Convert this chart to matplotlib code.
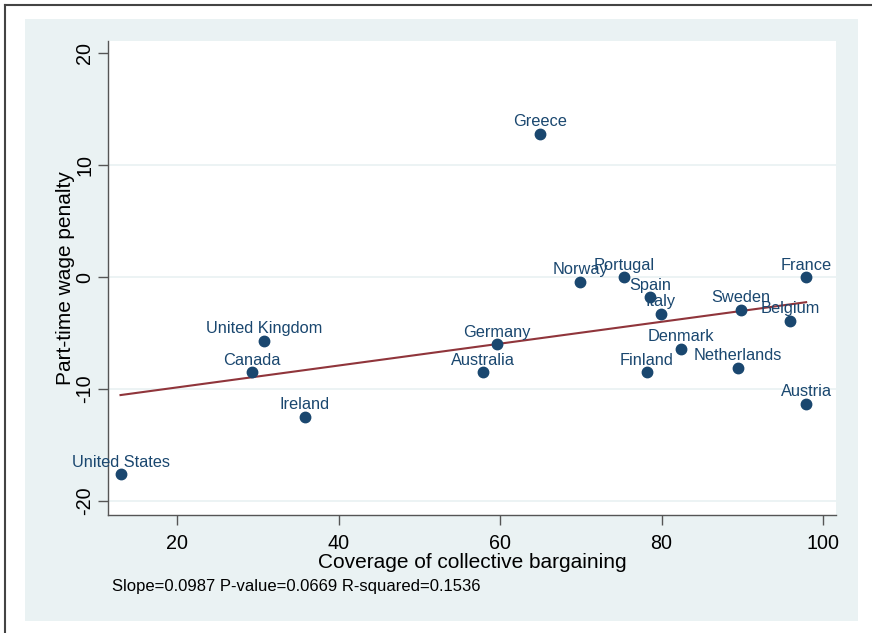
import matplotlib.pyplot as plt
import matplotlib.patches as mpatches
import matplotlib.lines as mlines
import numpy as np

plt.rcParams['font.family'] = ['Liberation Sans', 'DejaVu Sans']

## -- data
countries = ['United States', 'Canada', 'United Kingdom', 'Ireland', 'Australia',
             'Germany', 'Greece', 'Norway', 'Portugal', 'Spain', 'Italy', 'Denmark',
             'Finland', 'Netherlands', 'Sweden', 'Belgium', 'France', 'Austria']
coverage = [13.0, 29.3, 30.8, 35.8, 57.9, 59.6, 64.9, 69.9, 75.4, 78.6, 79.9, 82.4,
            78.2, 89.5, 89.8, 95.9, 97.9, 97.9]
penalty = [-17.6, -8.5, -5.7, -12.5, -8.5, -6.0, 12.8, -0.4, 0.0, -1.8, -3.3, -6.4,
           -8.5, -8.1, -2.9, -3.9, 0.0, -11.3]
xticks = [20, 40, 60, 80, 100]
yticks = [-20, -10, 0, 10, 20]
stats_note = 'Slope=0.0987 P-value=0.0669 R-squared=0.1536'

navy = '#1a476f'
maroon = '#90353b'
bgblue = '#eaf2f3'

W, H = 872, 633
fig = plt.figure(figsize=(W / 100, H / 100), dpi=100)
fig.patch.set_facecolor('white')

## -- light outer graph region and the border of the window
fig.patches.append(mpatches.Rectangle((25 / W, 1 - 621 / H), 833 / W, 602 / H,
                                      transform=fig.transFigure, facecolor=bgblue,
                                      edgecolor='none', zorder=-5))
fig.lines.append(mlines.Line2D([4.5 / W, 4.5 / W], [0, 1 - 4.5 / H], transform=fig.transFigure,
                               color='#444444', lw=1.5))
fig.lines.append(mlines.Line2D([4.5 / W, 1], [1 - 4.5 / H, 1 - 4.5 / H], transform=fig.transFigure,
                               color='#444444', lw=1.5))

ax = fig.add_axes([108 / W, 1 - 515 / H, 728 / W, 474 / H])
ax.set_zorder(2)
ax.set_facecolor('white')
ax.set_xlim(11.45, 101.6)
ax.set_ylim(-21.25, 21.1)

## -- grid lines (stata style, skip the top one)
for yv in yticks[:-1]:
    ax.axhline(yv, color=bgblue, lw=1.3, zorder=1)

## -- fit line
x = np.array(coverage)
y = np.array(penalty)
b, a = np.polyfit(x, y, 1)
xf = np.array([x.min(), x.max()])
ax.plot(xf, a + b * xf, color=maroon, lw=1.5, zorder=2)

## -- points and labels
ax.plot(x, y, 'o', color=navy, ms=7.5, mec=navy, zorder=3)
for name, xx, yy in zip(countries, coverage, penalty):
    ax.annotate(name, (xx, yy), xytext=(0, 5.5), textcoords='offset points',
                ha='center', va='baseline', color=navy, fontsize=11.8, zorder=4,
                annotation_clip=False)

for s in ['top', 'right']:
    ax.spines[s].set_visible(False)
for s in ['left', 'bottom']:
    ax.spines[s].set_color('#555555')
    ax.spines[s].set_linewidth(1.0)

ax.set_xticks(xticks)
ax.set_yticks(yticks)
ax.set_yticklabels([str(v) for v in yticks], rotation=90, va='center')
ax.tick_params(axis='both', direction='out', length=7, width=1, color='#555555',
               labelsize=14.2, labelcolor='black')
ax.tick_params(axis='x', pad=7)
ax.tick_params(axis='y', pad=3)

ax.set_xlabel('Coverage of collective bargaining', fontsize=15, labelpad=0)
ax.set_ylabel('Part-time wage penalty', fontsize=15, labelpad=0)

fig.text(112 / W, 1 - 587 / H, stats_note, fontsize=12, va='center', ha='left')

fig.savefig('out.png', dpi=100)
